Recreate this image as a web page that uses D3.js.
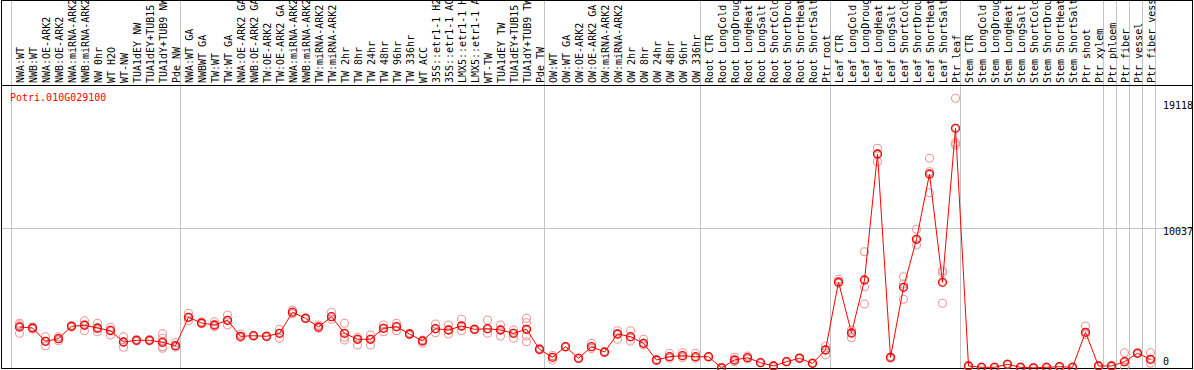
<!DOCTYPE html>
<html>
<head>
<meta charset="utf-8">
<style>
  body { margin: 0; background: #fff; }
  text { font-family: "DejaVu Sans Mono", "Liberation Mono", monospace; font-size: 10px; }
</style>
</head>
<body>
<div id="container"></div>
<script src="https://cdn.jsdelivr.net/npm/d3@7"></script>
<script>

const gene = "Potri.010G029100";

// sample labels, as shown (cut to 14 chars)
const samples = [
  "NWA:WT", "NWB:WT", "NWA:OE-ARK2", "NWB:OE-ARK2", "NWA:miRNA-ARK2", "NWB:miRNA-ARK2",
  "NW 0hr", "WT H2O", "WT-NW", "TUA1dEY NW", "TUA1dEY+TUB15", "TUA1dY+TUB9 NW", "Pde NW",
  "NWA:WT GA", "NWBWT GA", "TW:WT", "TW:WT GA", "NWA:OE-ARK2 GA", "NWB:OE-ARK2 GA",
  "TW:OE-ARK2", "TW:OE-ARK2 GA", "NWA:miRNA-ARK2", "NWB:miRNA-ARK2", "TW:miRNA-ARK2",
  "TW:miRNA-ARK2", "TW 2hr", "TW 8hr", "TW 24hr", "TW 48hr", "TW 96hr", "TW 336hr",
  "WT ACC", "35S::etr1-1 H2", "35S::etr1-1 AC", "LMX5::etr1-1 H", "LMX5::etr1-1 A",
  "WT-TW", "TUA1dEY TW", "TUA1dEY+TUB15", "TUA1dY+TUB9 TW", "Pde TW",
  "OW:WT", "OW:WT GA", "OW:OE-ARK2", "OW:OE-ARK2 GA", "OW:miRNA-ARK2", "OW:miRNA-ARK2",
  "OW 2hr", "OW 8hr", "OW 24hr", "OW 48hr", "OW 96hr", "OW 336hr",
  "Root CTR", "Root LongCold", "Root LongDroug", "Root LongHeat", "Root LongSalt",
  "Root ShortCold", "Root ShortDrou", "Root ShortHeat", "Root ShortSalt", "Ptr root",
  "Leaf CTR", "Leaf LongCold", "Leaf LongDroug", "Leaf LongHeat", "Leaf LongSalt",
  "Leaf ShortCold", "Leaf ShortDrou", "Leaf ShortHeat", "Leaf ShortSalt", "Ptr leaf",
  "Stem CTR", "Stem LongCold", "Stem LongDroug", "Stem LongHeat", "Stem LongSalt",
  "Stem ShortCold", "Stem ShortDrou", "Stem ShortHeat", "Stem ShortSalt", "Ptr shoot",
  "Ptr xylem", "Ptr phloem", "Ptr fiber", "Ptr vessel", "Ptr fiber vess"
];

// mean expression per sample
const means = [
  2947, 2875, 1919, 2106, 2997, 3069, 2875, 2681, 1869, 1991, 1991, 1847, 1603,
  3644, 3234, 3090, 3428, 2278, 2321, 2278, 2494, 4010, 3572, 2947, 3687, 2494,
  2063, 2063, 2853, 2968, 2444, 1940, 2824, 2731, 3019, 2781, 2824, 2731, 2494, 2781, 1344,
  769, 1531, 697, 1531, 1150, 2444, 2250, 1775, 575, 812, 884, 812,
  812, 10, 575, 740, 381, 144, 453, 697, 338, 1294,
  6181, 2515, 6325, 15380, 769, 5800, 9250, 13943, 6159, 17227,
  144, 50, 50, 266, 50, 10, 50, 93, 50, 2566,
  144, 144, 453, 1056, 625
];

// replicate values per sample
const reps = [
  [3213, 2494, 3100], [2950, 2800], [2250, 1581, 1919], [2250, 1962, 2106], [3050, 2950],
  [3400, 2681, 3120], [3213, 2609, 2800], [2925, 2372, 2750], [2250, 1488, 1869], [2050, 1950],
  [2050, 1950], [2465, 2135, 1531, 1416, 1850], [1818, 1500, 1600],
  [3931, 3400, 3644], [3300, 3180], [3328, 2968, 3090], [3809, 3090, 3428], [2444, 2200],
  [2350, 2300], [2300, 2250], [2781, 2135, 2494], [4168, 3900], [3600, 3550], [3090, 2850],
  [4003, 3500], [3213, 2206, 2012], [2206, 1653, 2063], [2372, 1653, 2063], [3090, 2609, 2853],
  [3213, 2681, 2968], [2500, 2400], [1775, 2000], [3162, 2537, 2824], [3090, 2444, 2731],
  [3500, 2681, 3019], [2800, 2750], [3450, 2494, 2824], [3090, 2300, 2731], [2731, 2135, 2494],
  [3572, 3256, 2300, 1890, 2781], [1400, 1300],
  [575, 900], [1550, 1500], [720, 680], [1775, 1400], [1150, 1120], [2681, 2063, 2444],
  [2681, 1940, 2250], [2063, 1653, 1775], [575, 560], [1056, 700], [1100, 750], [1056, 700],
  [812, 800], [10, 30], [769, 450], [862, 650], [381, 400], [144, 150], [453, 470],
  [697, 760], [338, 350], [1581, 934, 1294],
  [6375, 6100], [2731, 2178, 2515], [8359, 5843, 4600], [15790, 14827, 15380], [769, 700],
  [6562, 6037, 4937], [9968, 8840, 9250], [15071, 14108, 12599], [6993, 6849, 4650],
  [19383, 16192, 16027],
  [144, 150], [50, 60], [50, 60], [266, 280], [50, 60], [10, 20], [50, 60], [93, 100],
  [50, 60], [3019, 2400],
  [144, 150], [144, 150], [1100, 50, 453], [1056, 1100], [1100, 338, 625]
];

// last sample index of each group (vertical separators)
const groupEnds = [12, 40, 52, 62, 72, 83, 84, 85, 86, 87];
const yTicks = [0, 10037, 19118];

const width = 1194, height = 370;
const headerH = 85.5, bottom = 368.5, right = 1192.5;

const x = d3.scaleLinear().domain([0, samples.length - 1]).range([19.5, 1150.5]);
const y = d3.scaleLinear().domain([0, 19118]).range([368, 102]);

const svg = d3.create("svg")
    .attr("width", width)
    .attr("height", height);

// vertical separators
const seps = [-0.68].concat(groupEnds.map(i => i + 0.36));
svg.append("g").selectAll("line").data(seps).enter().append("line")
    .attr("x1", d => Math.round(x(d)) + 0.5).attr("x2", d => Math.round(x(d)) + 0.5)
    .attr("y1", 0).attr("y2", bottom)
    .attr("stroke", "#c4c4c4").attr("stroke-width", 1);

// horizontal grid at middle tick
svg.append("line")
    .attr("x1", 1).attr("x2", right)
    .attr("y1", Math.round(y(yTicks[1])) + 0.5).attr("y2", Math.round(y(yTicks[1])) + 0.5)
    .attr("stroke", "#c4c4c4");

// frame
svg.append("rect")
    .attr("x", 1.5).attr("y", 0.5)
    .attr("width", right - 1.5).attr("height", bottom - 0.5)
    .attr("fill", "none").attr("stroke", "#000");
svg.append("line")
    .attr("x1", 1.5).attr("x2", right)
    .attr("y1", headerH).attr("y2", headerH)
    .attr("stroke", "#000");

// header labels
svg.append("g").selectAll("text").data(samples).enter().append("text")
    .attr("transform", (d, i) => `translate(${x(i) + 4.5},83) rotate(-90)`)
    .attr("fill", "#000")
    .text(d => d);

// y tick labels
svg.append("g").selectAll("text").data(yTicks).enter().append("text")
    .attr("x", 1163)
    .attr("y", d => Math.min(y(d) + 7, 365))
    .attr("fill", "#000")
    .text(d => d);

// gene name
svg.append("text")
    .attr("x", 10).attr("y", 101)
    .attr("fill", "#ff0000")
    .text(gene);

// replicates
const repPts = [];
reps.forEach((r, i) => r.forEach(v => repPts.push({ i: i, v: v })));
svg.append("g").selectAll("circle").data(repPts).enter().append("circle")
    .attr("cx", d => x(d.i)).attr("cy", d => y(d.v))
    .attr("r", 4)
    .attr("fill", "none")
    .attr("stroke", "#ec9a9a")
    .attr("stroke-width", 1.1);

// mean line
const line = d3.line().x((d, i) => x(i)).y(d => y(d));
svg.append("path")
    .attr("d", line(means))
    .attr("fill", "none")
    .attr("stroke", "#ff0000")
    .attr("stroke-width", 1);

// mean markers
const mg = svg.append("g");
mg.selectAll("circle.m").data(means).enter().append("circle")
    .attr("class", "m")
    .attr("cx", (d, i) => x(i)).attr("cy", d => y(d))
    .attr("r", 4)
    .attr("fill", "none")
    .attr("stroke", "#ff0000")
    .attr("stroke-width", 1.3);
mg.selectAll("circle.k").data(means).enter().append("circle")
    .attr("class", "k")
    .attr("cx", (d, i) => x(i)).attr("cy", d => y(d))
    .attr("r", 3)
    .attr("fill", "none")
    .attr("stroke", "#400")
    .attr("stroke-width", 0.5)
    .attr("stroke-opacity", 0.5);

container.append(svg.node());

</script>
</body>
</html>
